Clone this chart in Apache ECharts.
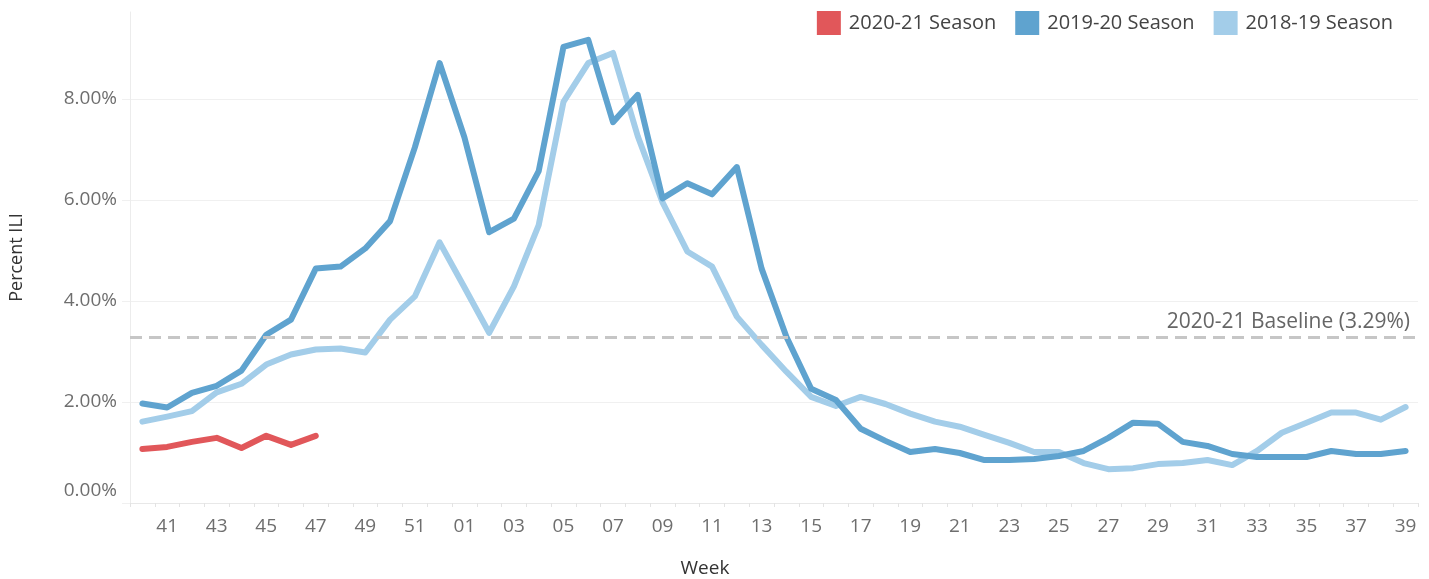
<!DOCTYPE html>
<html>
<head>
<meta charset="utf-8">
<style>
  html, body { margin: 0; padding: 0; background: #fff; }
  #chart { width: 1429px; height: 579px; }
</style>
<script src="https://cdn.jsdelivr.net/npm/echarts@6/dist/echarts.min.js"></script>
</head>
<body>
<div id="chart"></div>
<script>
// weeks from 40 of one year to 39 of the next
const weeks = ['40', '41', '42', '43', '44', '45', '46', '47', '48', '49', '50', '51', '52',
  '01', '02', '03', '04', '05', '06', '07', '08', '09', '10', '11', '12', '13',
  '14', '15', '16', '17', '18', '19', '20', '21', '22', '23', '24', '25', '26',
  '27', '28', '29', '30', '31', '32', '33', '34', '35', '36', '37', '38', '39'];

const season2021 = [1.07, 1.11, 1.21, 1.29, 1.09, 1.33, 1.15, 1.33];

const season1920 = [1.97, 1.89, 2.18, 2.32, 2.62, 3.33, 3.63, 4.64, 4.68, 5.04, 5.58, 7.04, 8.71,
  7.24, 5.36, 5.63, 6.57, 9.03, 9.17, 7.54, 8.08, 6.03, 6.33, 6.11, 6.65, 4.64,
  3.29, 2.26, 2.04, 1.47, 1.23, 1.01, 1.07, 0.99, 0.85, 0.85, 0.87, 0.93, 1.03,
  1.29, 1.59, 1.57, 1.21, 1.13, 0.97, 0.91, 0.91, 0.91, 1.03, 0.97, 0.97, 1.03];

const season1819 = [1.61, 1.71, 1.82, 2.19, 2.36, 2.74, 2.94, 3.04, 3.06, 2.98, 3.63, 4.09, 5.16,
  4.27, 3.37, 4.29, 5.50, 7.94, 8.71, 8.91, 7.26, 5.95, 4.98, 4.68, 3.69, 3.13,
  2.60, 2.10, 1.92, 2.10, 1.96, 1.77, 1.61, 1.51, 1.35, 1.19, 1.01, 1.01, 0.79,
  0.67, 0.69, 0.77, 0.79, 0.85, 0.75, 1.03, 1.39, 1.59, 1.79, 1.79, 1.65, 1.90];

const baseline = 3.29;

const font = 'Open Sans';
const chart = echarts.init(document.getElementById('chart'));

function lineSeries(name, data, color, z) {
  return {
    name: name,
    type: 'line',
    data: data,
    symbol: 'none',
    z: z,
    lineStyle: { width: 6, color: color, cap: 'round', join: 'round' },
    itemStyle: { color: color }
  };
}

const series = [
  lineSeries('2018-19 Season', season1819, '#a3cde9', 2),
  lineSeries('2019-20 Season', season1920, '#5fa3cf', 3),
  lineSeries('2020-21 Season', season2021, '#e1575a', 4)
];

// baseline drawn as a markLine on the first series
series[0].markLine = {
  silent: true,
  symbol: 'none',
  lineStyle: { color: '#c6c6c6', width: 3, type: [12, 7] },
  label: {
    position: 'insideEndTop',
    formatter: '2020-21 Baseline (' + baseline.toFixed(2) + '%)',
    color: '#666',
    fontFamily: font,
    fontSize: 21,
    distance: [8, 4]
  },
  data: [{ yAxis: baseline }]
};

chart.setOption({
  animation: false,
  textStyle: { fontFamily: font },
  legend: {
    data: ['2020-21 Season', '2019-20 Season', '2018-19 Season'],
    right: 31,
    top: 6,
    icon: 'rect',
    itemWidth: 24,
    itemHeight: 24,
    itemGap: 19,
    textStyle: { color: '#444', fontSize: 20, fontFamily: font, padding: [0, 0, 0, 3] }
  },
  grid: { left: 130, right: 11, top: 12, bottom: 76, outerBoundsMode: 'none' },
  xAxis: {
    type: 'category',
    data: weeks,
    boundaryGap: true,
    name: 'Week',
    nameLocation: 'middle',
    nameGap: 56,
    nameTextStyle: { color: '#333', fontSize: 19, fontFamily: font, padding: [0, 138, 0, 0] },
    axisLine: { lineStyle: { color: '#e8e8e8', width: 1 } },
    axisTick: { show: true, interval: 0, length: 4, lineStyle: { color: '#e3e3e3' } },
    axisLabel: {
      interval: (i) => i % 2 === 1,
      color: '#6e6e6e',
      fontSize: 19,
      fontFamily: font,
      margin: 14
    },
    splitLine: { show: false }
  },
  yAxis: {
    type: 'value',
    min: 0,
    max: 9.72,
    interval: 2,
    name: 'Percent ILI',
    nameLocation: 'middle',
    nameGap: 104,
    nameRotate: 90,
    nameTextStyle: { color: '#333', fontSize: 18, fontFamily: font },
    axisLine: { show: true, lineStyle: { color: '#ececec' } },
    axisTick: { show: true, length: 8, lineStyle: { color: '#f0f0f0' } },
    axisLabel: {
      showMaxLabel: false,
      color: '#6e6e6e',
      fontSize: 19,
      fontFamily: font,
      margin: 13,
      formatter: (v) => v === 0 ? '{z|0.00%}' : v.toFixed(2) + '%',
      rich: {
        z: { color: '#6e6e6e', fontSize: 19, fontFamily: font, padding: [0, 0, 24, 0] }
      }
    },
    splitLine: { show: true, showMaxLine: false, lineStyle: { color: '#f0f0f0', width: 1 } }
  },
  series: series
});
</script>
</body>
</html>
